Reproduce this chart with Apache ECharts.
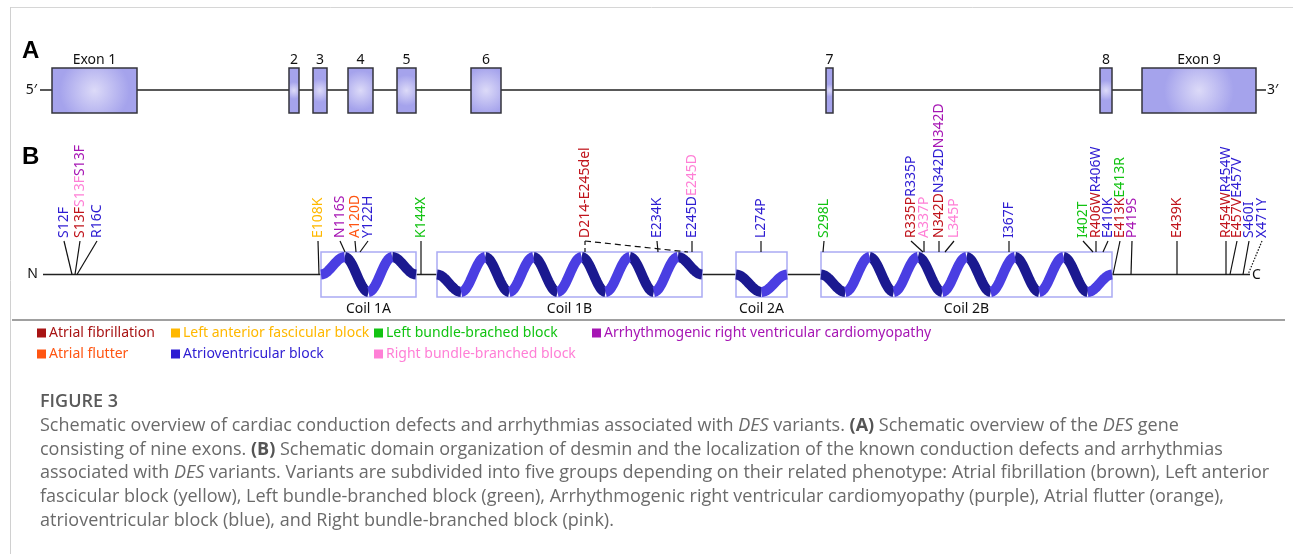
<!DOCTYPE html>
<html>
<head>
<meta charset="utf-8">
<script src="https://cdn.jsdelivr.net/npm/echarts@6/dist/echarts.min.js"></script>
<style>
  html, body { margin: 0; background: #fff; }
  #main { width: 1293px; height: 554px; }
</style>
</head>
<body>
<div id="main"></div>
<script>
// ---- panel A: exons along the gene (schematic x units) ----
const exonNames = ['Exon 1', '2', '3', '4', '5', '6', '7', '8', 'Exon 9'];
const exonStart = [52, 289, 313, 348, 397, 471, 826, 1100, 1142];
const exonEnd   = [137, 299, 327, 373, 416, 501, 833, 1112, 1256];
const geneSpan  = [40, 1266];

// ---- panel B: coiled-coil domains ----
const coilNames   = ['Coil 1A', 'Coil 1B', 'Coil 2A', 'Coil 2B'];
const coilStart   = [321, 437, 736, 821];
const coilEnd     = [416, 702, 787, 1112];
const coilTurns   = [3, 10, 1, 11];          // helix extremes inside each box
const coilFirstUp = [true, false, false, false];
const proteinSpan = [43, 1250];

// ---- phenotypes ----
const phenotypes = ['Atrial fibrillation', 'Left anterior fascicular block', 'Left bundle-brached block',
  'Arrhythmogenic right ventricular cardiomyopathy', 'Atrial flutter', 'Atrioventricular block',
  'Right bundle-branched block'];
const phenoColors = ['#c0141c', '#ffb800', '#12c312', '#a616b4', '#ff5512', '#2d1cd2', '#ff7fd6'];
const legendColors = ['#a81414', '#ffb800', '#12c312', '#a616b4', '#ff5512', '#2d1cd2', '#ff7fd6'];

// ---- variants: label text pieces, phenotype of each piece, label pos, stem foot pos ----
const variantText = [
  ['S12F'], ['S13F', 'S13F', 'S13F'], ['R16C'], ['E108K'], ['N116S'], ['A120D'], ['Y122H'], ['K144X'],
  ['D214-E245del'], ['E234K'], ['E245D', 'E245D'], ['L274P'], ['S298L'], ['R335P', 'R335P'], ['A337P'],
  ['N342D', 'N342D', 'N342D'], ['L345P'], ['I367F'], ['I402T'], ['R406W', 'R406W'], ['E410K'],
  ['E413K', 'E413R'], ['P419S'], ['E439K'], ['R454W', 'R454W'], ['E457V', 'E457V'], ['S460I'], ['X471Y']
];
const variantPheno = [
  [5], [0, 6, 3], [5], [1], [3], [4], [5], [2],
  [0], [5], [5, 6], [5], [2], [0, 5], [6],
  [0, 5, 3], [6], [5], [2], [0, 5], [5],
  [0, 2], [3], [0], [0, 5], [0, 5], [5], [5]
];
const variantPos = [64, 80, 97, 318, 340, 355, 368, 421, 585, 657, 692, 761, 824, 911, 924,
  939, 954, 1009, 1083, 1096, 1108, 1120, 1132, 1177, 1226, 1237, 1249, 1262];
const variantFoot = [72, 75, 77, 319, 345, 356, 360, 421, 585, 658, 692, 761, 823, 923, 924,
  939, 945, 1009, 1093, 1096, 1103, 1113, 1131, 1177, 1226, 1230, 1243, 1248];
const variantStem = ['solid', 'solid', 'solid', 'solid', 'solid', 'solid', 'solid', 'solid',
  'dashed', 'solid', 'solid', 'solid', 'solid', 'solid', 'solid', 'solid', 'solid', 'solid',
  'solid', 'solid', 'solid', 'solid', 'solid', 'solid', 'solid', 'solid', 'solid', 'dotted'];
const deletionSpan = [585, 688];

// ---- caption ----
const captionTitle = 'FIGURE 3';
const captionLines = [
  'Schematic overview of cardiac conduction defects and arrhythmias associated with {i|DES} variants. {b|(A)} Schematic overview of the {i|DES} gene',
  'consisting of nine exons. {b|(B)} Schematic domain organization of desmin and the localization of the known conduction defects and arrhythmias',
  'associated with {i|DES} variants. Variants are subdivided into five groups depending on their related phenotype: Atrial fibrillation (brown), Left anterior',
  'fascicular block (yellow), Left bundle-branched block (green), Arrhythmogenic right ventricular cardiomyopathy (purple), Atrial flutter (orange),',
  'atrioventricular block (blue), and Right bundle-branched block (pink).'
];

// layout constants (pixels in the 1293x554 frame)
const GENE_Y = 90, EXON_TOP = 68, EXON_BOTTOM = 113;
const LINE_Y = 274.5, COIL_TOP = 252, COIL_BOTTOM = 297, STEM_TOP = 241;
const FONT = '"Noto Sans", "Liberation Sans", sans-serif';
const CAP_FONT = '"Open Sans", sans-serif';
const CAP_SIZE = 18;

const chart = echarts.init(document.getElementById('main'));

const rich = {};
phenoColors.forEach((c, i) => { rich['p' + i] = { fill: c, fontSize: 14, fontFamily: FONT }; });

function helixPieces(api, s, e, n, up) {
  const hTop = COIL_TOP + 5, hBot = COIL_BOTTOM - 5;
  const step = (e - s) / (n + 1);
  const knots = [];
  for (let k = 0; k <= n + 1; k++) {
    let y = LINE_Y;
    if (k > 0 && k < n + 1) y = ((k % 2 === 1) === up) ? hTop : hBot;
    knots.push([s + k * step, y]);
  }
  const falling = [], rising = [];
  for (let k = 0; k < knots.length - 1; k++) {
    const [x0, y0] = knots[k], [x1, y1] = knots[k + 1];
    const pts = [];
    for (let j = 0; j <= 16; j++) {
      const t = j / 16;
      pts.push(api.coord([x0 + (x1 - x0) * t, y0 + (y1 - y0) * (1 - Math.cos(Math.PI * t)) / 2]));
    }
    const el = {
      type: 'polyline', shape: { points: pts },
      style: { fill: null, stroke: y1 < y0 ? '#4a3ee2' : '#1b1990', lineWidth: 10, lineCap: 'butt', lineJoin: 'round' }
    };
    (y1 < y0 ? rising : falling).push(el);
  }
  return falling.concat(rising);
}

const option = {
  animation: false,
  grid: { left: 0, right: 0, top: 0, bottom: 0 },
  xAxis: { type: 'value', min: 0, max: 1293, show: false },
  yAxis: { type: 'value', min: 0, max: 554, inverse: true, show: false },
  series: [
    { // gene backbone
      type: 'line', data: [[geneSpan[0], GENE_Y], [geneSpan[1], GENE_Y]], symbol: 'none',
      lineStyle: { color: '#222', width: 1.3 }, z: 1, silent: true
    },
    { // exons
      type: 'custom', clip: false, z: 2,
      data: exonStart.map((s, i) => [s, exonEnd[i]]),
      renderItem(params, api) {
        const p0 = api.coord([api.value(0), EXON_TOP]);
        const p1 = api.coord([api.value(1), EXON_BOTTOM]);
        const cx = (p0[0] + p1[0]) / 2;
        return {
          type: 'group', children: [
            {
              type: 'rect', shape: { x: p0[0], y: p0[1], width: p1[0] - p0[0], height: p1[1] - p0[1] },
              style: {
                fill: { type: 'radial', x: 0.5, y: 0.5, r: 0.75,
                  colorStops: [{ offset: 0, color: '#dcdaf8' }, { offset: 1, color: '#a5a3ec' }] },
                stroke: '#34343c', lineWidth: 1.5
              }
            },
            {
              type: 'text', x: cx, y: p0[1] - 8,
              style: { text: exonNames[params.dataIndex], font: '14px ' + FONT, fill: '#111', align: 'center', verticalAlign: 'middle' }
            }
          ]
        };
      }
    },
    { // protein backbone
      type: 'line', data: [[proteinSpan[0], LINE_Y], [proteinSpan[1], LINE_Y]], symbol: 'none',
      lineStyle: { color: '#222', width: 1.3 }, z: 1, silent: true
    },
    { // coils
      type: 'custom', clip: false, z: 3,
      data: coilStart.map((s, i) => [s, coilEnd[i], coilTurns[i]]),
      renderItem(params, api) {
        const i = params.dataIndex;
        const s = api.value(0), e = api.value(1);
        const p0 = api.coord([s, COIL_TOP]), p1 = api.coord([e, COIL_BOTTOM]);
        return {
          type: 'group', children: [
            {
              type: 'rect', shape: { x: p0[0], y: p0[1], width: p1[0] - p0[0], height: p1[1] - p0[1] },
              style: { fill: '#fff', stroke: '#aaaaf4', lineWidth: 1.5 }
            },
            ...helixPieces(api, s, e, api.value(2), coilFirstUp[i]),
            {
              type: 'text', x: (p0[0] + p1[0]) / 2, y: p1[1] + 12,
              style: { text: coilNames[i], font: '14px ' + FONT, fill: '#111', align: 'center', verticalAlign: 'middle' }
            }
          ]
        };
      }
    },
    { // variants
      type: 'custom', clip: false, z: 4,
      data: variantPos.map((p, i) => [p, variantFoot[i]]),
      renderItem(params, api) {
        const i = params.dataIndex;
        const lx = api.value(0), fx = api.value(1);
        const inCoil = coilStart.some((s, k) => fx > s && fx < coilEnd[k]);
        const top = api.coord([lx, STEM_TOP]);
        const foot = api.coord([fx, inCoil ? COIL_TOP : LINE_Y]);
        const dash = variantStem[i] === 'dashed' ? [4, 3] : variantStem[i] === 'dotted' ? [1.5, 1.5] : null;
        const children = [
          {
            type: 'line', shape: { x1: top[0], y1: top[1], x2: foot[0], y2: foot[1] },
            style: { stroke: '#111', lineWidth: 1.2, lineDash: dash }
          },
          {
            type: 'text', x: top[0], y: top[1] - 3, rotation: Math.PI / 2,
            style: {
              text: variantText[i].map((t, k) => '{p' + variantPheno[i][k] + '|' + t + '}').join(''),
              rich: rich, font: '14px ' + FONT, align: 'left', verticalAlign: 'middle'
            }
          }
        ];
        if (variantStem[i] === 'dashed') {
          const a = api.coord([deletionSpan[0], STEM_TOP]), b = api.coord([deletionSpan[1], COIL_TOP]);
          children.push({
            type: 'line', shape: { x1: a[0], y1: a[1], x2: b[0], y2: b[1] },
            style: { stroke: '#111', lineWidth: 1.2, lineDash: [6, 4] }
          });
        }
        return { type: 'group', children };
      }
    }
  ],
  graphic: [
    { type: 'line', shape: { x1: 10, y1: 7.5, x2: 1293, y2: 7.5 }, style: { stroke: '#d6d6d6', lineWidth: 1 } },
    { type: 'line', shape: { x1: 10.5, y1: 7, x2: 10.5, y2: 554 }, style: { stroke: '#d0d0d0', lineWidth: 1 } },
    { type: 'line', shape: { x1: 12, y1: 320, x2: 1285, y2: 320 }, style: { stroke: '#a0a0a0', lineWidth: 2 } },
    { type: 'text', x: 22, y: 51, style: { text: 'A', font: 'bold 24px "Liberation Sans", sans-serif', fill: '#000', verticalAlign: 'middle' } },
    { type: 'text', x: 22, y: 157, style: { text: 'B', font: 'bold 24px "Liberation Sans", sans-serif', fill: '#000', verticalAlign: 'middle' } },
    { type: 'text', x: 37, y: GENE_Y, style: { text: '5′', font: '14px ' + FONT, fill: '#111', align: 'right', verticalAlign: 'middle' } },
    { type: 'text', x: 1267, y: GENE_Y, style: { text: '3′', font: '14px ' + FONT, fill: '#111', align: 'left', verticalAlign: 'middle' } },
    { type: 'text', x: 38, y: LINE_Y, style: { text: 'N', font: '14px ' + FONT, fill: '#111', align: 'right', verticalAlign: 'middle' } },
    { type: 'text', x: 1252, y: LINE_Y + 1, style: { text: 'C', font: '14px ' + FONT, fill: '#111', align: 'left', verticalAlign: 'middle' } },
    ...phenotypes.flatMap((name, i) => {
      const cols = [37, 171, 374, 592];
      const x = cols[i < 4 ? i : i - 4], y = i < 4 ? 333 : 354;
      return [
        { type: 'rect', shape: { x: x, y: y - 4.5, width: 9, height: 9 }, style: { fill: legendColors[i] } },
        { type: 'text', x: x + 12, y: y, style: { text: name, font: '14px ' + FONT, fill: legendColors[i], verticalAlign: 'middle' } }
      ];
    }),
    { type: 'text', x: 40, y: 402, style: { text: captionTitle, font: '600 18px ' + CAP_FONT, fill: '#5a5a5a', verticalAlign: 'middle' } },
    ...captionLines.map((line, i) => ({
      type: 'text', x: 40, y: 426 + i * 23.6,
      style: {
        text: line, font: CAP_SIZE + 'px ' + CAP_FONT, fill: '#6a6a6a', verticalAlign: 'middle',
        rich: {
          i: { fontStyle: 'italic', fontSize: CAP_SIZE, fontFamily: CAP_FONT, fill: '#6a6a6a' },
          b: { fontWeight: 'bold', fontSize: CAP_SIZE, fontFamily: CAP_FONT, fill: '#555' }
        }
      }
    }))
  ]
};

chart.setOption(option);
</script>
</body>
</html>
